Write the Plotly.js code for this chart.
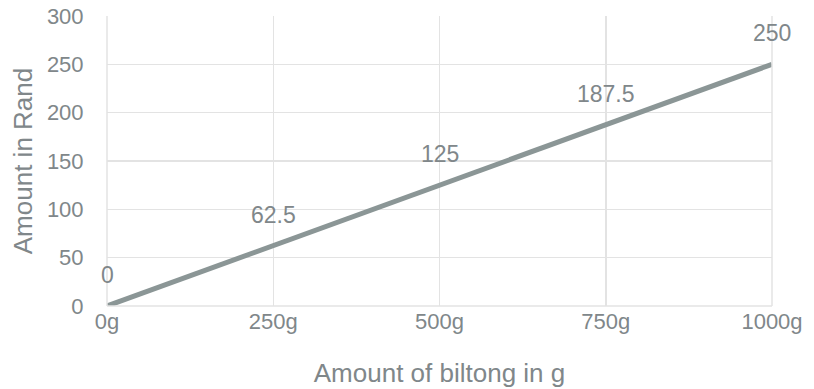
<!DOCTYPE html>
<html>
<head>
<meta charset="utf-8">
<script src="https://cdn.plot.ly/plotly-3.0.1.min.js"></script>
<style>html,body{margin:0;padding:0;background:#fff;}#chart{width:814px;height:389px;}</style>
</head>
<body>
<div id="chart"></div>
<script>
var grams = [0, 250, 500, 750, 1000];
var tickLabels = ["0g", "250g", "500g", "750g", "1000g"];
var rand = [0, 62.5, 125, 187.5, 250];
var dataLabels = ["0", "62.5", "125", "187.5", "250"];

var textColor = "#80878a";
var family = "Liberation Sans, Arial, sans-serif";
var tickFont = {family: family, size: 22, color: textColor};
var labelFont = {family: family, size: 23, color: textColor};
var titleFont = {family: family, size: 26, color: textColor};

var trace = {
  x: grams,
  y: rand,
  type: "scatter",
  mode: "lines",
  line: {color: "#8b9696", width: 5},
  hoverinfo: "skip"
};

var annotations = grams.map(function (g, i) {
  return {
    x: g, y: rand[i], xref: "x", yref: "y",
    text: dataLabels[i], showarrow: false,
    yshift: 31, font: labelFont
  };
});

var layout = {
  width: 814, height: 389,
  margin: {l: 107, r: 42, t: 16, b: 83},
  paper_bgcolor: "#ffffff", plot_bgcolor: "#ffffff",
  font: tickFont,
  showlegend: false,
  xaxis: {
    range: [0, 1000],
    tickvals: grams, ticktext: tickLabels,
    showgrid: true, gridcolor: "#e3e3e3", gridwidth: 1.5,
    zeroline: false, showline: false,
    ticks: "", ticklen: 0,
    tickfont: tickFont,
    automargin: false,
    title: {text: "Amount of biltong in g", font: titleFont, standoff: 30}
  },
  yaxis: {
    range: [0, 300], dtick: 50,
    showgrid: true, gridcolor: "#e3e3e3", gridwidth: 1.5,
    zeroline: false, showline: false,
    ticks: "outside", ticklen: 18, tickcolor: "rgba(0,0,0,0)",
    tickfont: tickFont,
    automargin: false,
    title: {text: "Amount in Rand", font: titleFont, standoff: 6}
  },
  shapes: [
    {type: "line", xref: "paper", yref: "paper", x0: 0, x1: 0, y0: 0, y1: 1, line: {color: "#e3e3e3", width: 1.5}},
    {type: "line", xref: "paper", yref: "paper", x0: 1, x1: 1, y0: 0, y1: 1, line: {color: "#e3e3e3", width: 1.5}},
    {type: "line", xref: "paper", yref: "paper", x0: 0, x1: 1, y0: 0, y1: 0, line: {color: "#e3e3e3", width: 1.5}}
  ],
  annotations: annotations
};

Plotly.newPlot("chart", [trace], layout, {displayModeBar: false, staticPlot: true});
</script>
</body>
</html>
